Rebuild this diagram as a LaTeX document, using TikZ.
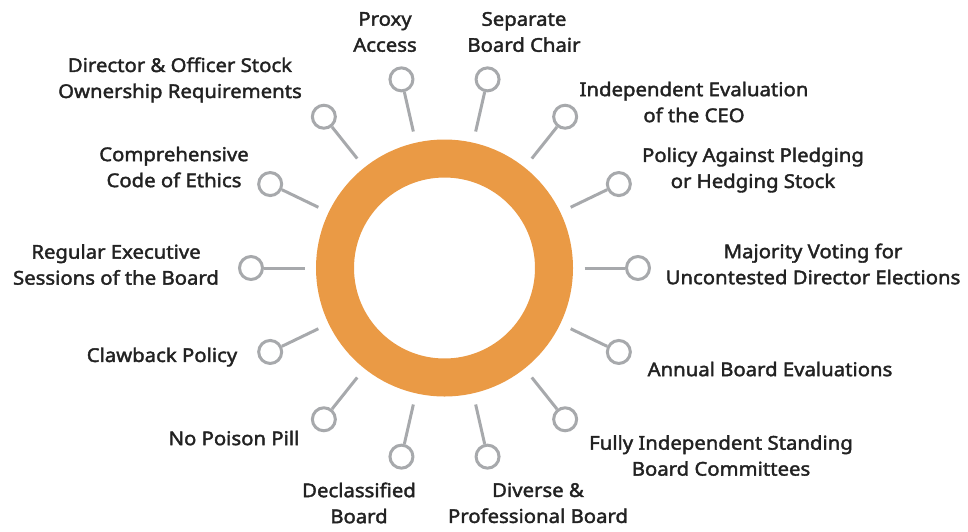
\documentclass[tikz,border=0pt]{standalone}
\usepackage{fontspec}
\setmainfont{Noto Sans}[FakeBold=2,FakeStretch=1.07]
\usetikzlibrary{calc}
\definecolor{ringorange}{HTML}{EA9A45}
\definecolor{spokegray}{HTML}{A7A9AC}
\definecolor{txt}{HTML}{222222}
\tikzset{
  spoke/.style={draw=spokegray, line width=3pt},
  knob/.style={circle, draw=spokegray, line width=3pt, fill=white, minimum size=23pt, inner sep=0pt},
  lbl/.style={align=center, inner sep=0pt, text=txt, font=\fontsize{19}{26}\selectfont},
}
\begin{document}
\begin{tikzpicture}[x=1pt,y=-1pt]
\useasboundingbox (0,0) rectangle (968,531);
\coordinate (c) at (444.5,268);
\draw[ringorange, line width=38pt] (c) circle[radius=109.5pt];
\foreach \k in {0,...,13}{
  \coordinate (s\k) at ($(c)+({\k*360/14}:140pt)$);
  \node[knob] (b\k) at ($(c)+({\k*360/14}:193.5pt)$) {};
  \draw[spoke] (s\k) -- (b\k);
}
\node[lbl] (l4) at (385,32) {Proxy\\Access};
\node[lbl] (l3) at (524,32) {Separate\\Board Chair};
\node[lbl] (l2) at (694,102) {Independent Evaluation\\of the CEO};
\node[lbl] (l1) at (753,170) {Policy Against Pledging\\or Hedging Stock};
\node[lbl] (l0) at (813,264) {Majority Voting for\\Uncontested Director Elections};
\node[lbl] (l13) at (770,369) {Annual Board Evaluations};
\node[lbl] (l12) at (721,455.5) {Fully Independent Standing\\Board Committees};
\node[lbl] (l11) at (538,503) {Diverse \&\\Professional Board};
\node[lbl] (l10) at (359,503) {Declassified\\Board};
\node[lbl] (l9) at (234,438) {No Poison Pill};
\node[lbl] (l8) at (162,357) {Clawback Policy};
\node[lbl] (l7) at (116,264.5) {Regular Executive\\Sessions of the Board};
\node[lbl] (l6) at (174,167) {Comprehensive\\Code of Ethics};
\node[lbl] (l5) at (180,80) {Director \& Officer Stock\\Ownership Requirements};
\end{tikzpicture}
\end{document}
